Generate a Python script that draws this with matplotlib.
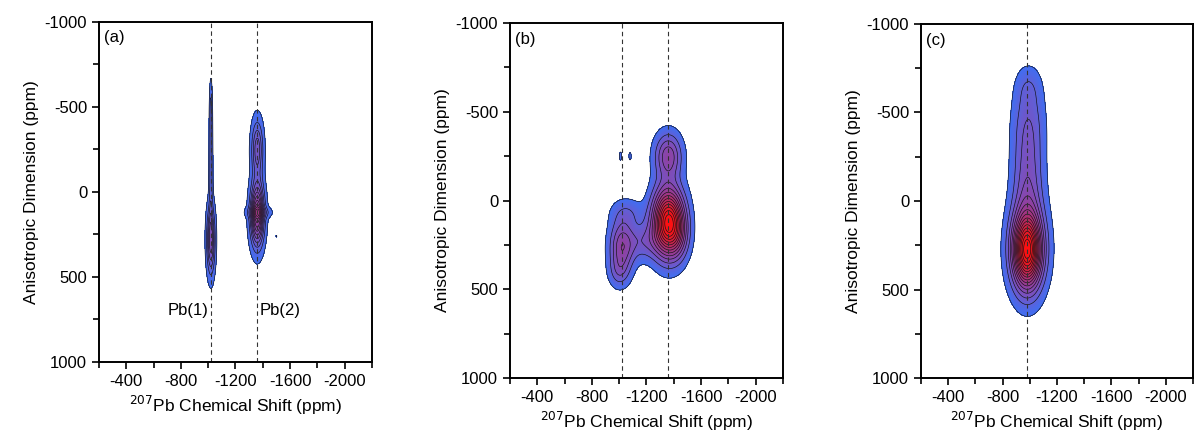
import numpy as np
import matplotlib.pyplot as plt
from matplotlib.colors import LinearSegmentedColormap
from matplotlib.ticker import MultipleLocator

plt.rcParams['font.family'] = ['Liberation Sans', 'DejaVu Sans']
plt.rcParams['axes.unicode_minus'] = False

# spectral components for each panel: centre (ppm), widths (ppm), relative height
a_cx = [-1020, -1020, -1020, -1360, -1360, -1370, -1500]
a_cy = [280, -150, -480, 130, -250, 120, 260]
a_sx = [20, 9, 7, 32, 28, 55, 6]
a_sy = [130, 230, 110, 120, 110, 22, 8]
a_amp = [0.55, 0.22, 0.14, 1.0, 0.45, 0.25, 0.06]

b_cx = [-1360, -1360, -1020, -1180, -1060, -1010, -1080, -1430, -1000]
b_cy = [120, -250, 260, 230, 70, -250, -250, 200, 400]
b_sx = [75, 65, 60, 90, 80, 10, 10, 55, 50]
b_sy = [125, 85, 100, 70, 55, 28, 25, 90, 60]
b_amp = [1.0, 0.33, 0.32, 0.16, 0.1, 0.06, 0.06, 0.15, 0.12]

c_cx = [-980, -985, -985, -990, -990]
c_cy = [280, 280, -80, -450, -650]
c_sx = [68, 105, 75, 80, 65]
c_sy = [135, 190, 220, 160, 80]
c_amp = [1.0, 0.18, 0.25, 0.15, 0.07]

a_guides = [-1020, -1360]
b_guides = [-1020, -1355]
c_guides = [-980]

shift = np.linspace(-200, -2200, 1001)
aniso = np.linspace(-1000, 1000, 1001)
X, Y = np.meshgrid(shift, aniso)

cmap = LinearSegmentedColormap.from_list(
    'nmr', [(0.0, '#3f6ef2'), (0.06, '#5a62dc'), (0.16, '#7652c2'),
            (0.32, '#9040a0'), (0.55, '#b02c6a'), (0.8, '#e01a2c'),
            (1.0, '#ff1010')])


def spectrum(cx, cy, sx, sy, amp):
    z = np.zeros_like(X)
    for x0, y0, wx, wy, h in zip(cx, cy, sx, sy, amp):
        z += h * np.exp(-0.5 * (((X - x0) / wx) ** 2 + ((Y - y0) / wy) ** 2))
    return z / z.max()


def draw_panel(ax, z, guides, tag, nlev, vmax=1.0):
    base = 0.04
    ax.contourf(X, Y, z, levels=np.linspace(base, 1.0, 120), cmap=cmap,
                vmin=base, vmax=vmax, extend='max')
    ax.contour(X, Y, z, levels=np.linspace(base, 1.0, nlev), colors='#111111',
               linewidths=0.45)
    for g in guides:
        ax.axvline(g, color='#333333', linestyle='--', linewidth=0.8, dashes=(4, 3))

    ax.set_xlim(-200, -2200)
    ax.set_ylim(1000, -1000)
    ax.set_xticks([-400, -800, -1200, -1600, -2000])
    ax.xaxis.set_minor_locator(MultipleLocator(200))
    ax.yaxis.set_major_locator(MultipleLocator(500))
    ax.yaxis.set_minor_locator(MultipleLocator(250))
    ax.tick_params(which='both', direction='out', labelsize=12, width=1.2)
    ax.tick_params(which='major', length=5)
    ax.tick_params(which='minor', length=4)
    for s in ax.spines.values():
        s.set_linewidth(1.4)

    ax.set_xlabel('$^{207}$Pb Chemical Shift (ppm)', fontsize=12.5)
    ax.set_ylabel('Anisotropic Dimension (ppm)', fontsize=12.5)
    ax.text(0.02, 0.975, tag, transform=ax.transAxes, ha='left', va='top', fontsize=12)


fig = plt.figure(figsize=(11.94, 4.44), dpi=100)
ax_a = fig.add_axes([0.0829, 0.1847, 0.2286, 0.7658])
ax_b = fig.add_axes([0.4271, 0.1486, 0.2286, 0.7995])
ax_c = fig.add_axes([0.7714, 0.1486, 0.2278, 0.7974])

draw_panel(ax_a, spectrum(a_cx, a_cy, a_sx, a_sy, a_amp), a_guides, '(a)', 12, vmax=2.2)
draw_panel(ax_b, spectrum(b_cx, b_cy, b_sx, b_sy, b_amp), b_guides, '(b)', 14)
draw_panel(ax_c, spectrum(c_cx, c_cy, c_sx, c_sy, c_amp), c_guides, '(c)', 16)

ax_a.text(a_guides[0] + 15, 700, 'Pb(1)', ha='right', va='center', fontsize=12)
ax_a.text(a_guides[1] - 15, 700, 'Pb(2)', ha='left', va='center', fontsize=12)

fig.savefig('out.png', dpi=100)
